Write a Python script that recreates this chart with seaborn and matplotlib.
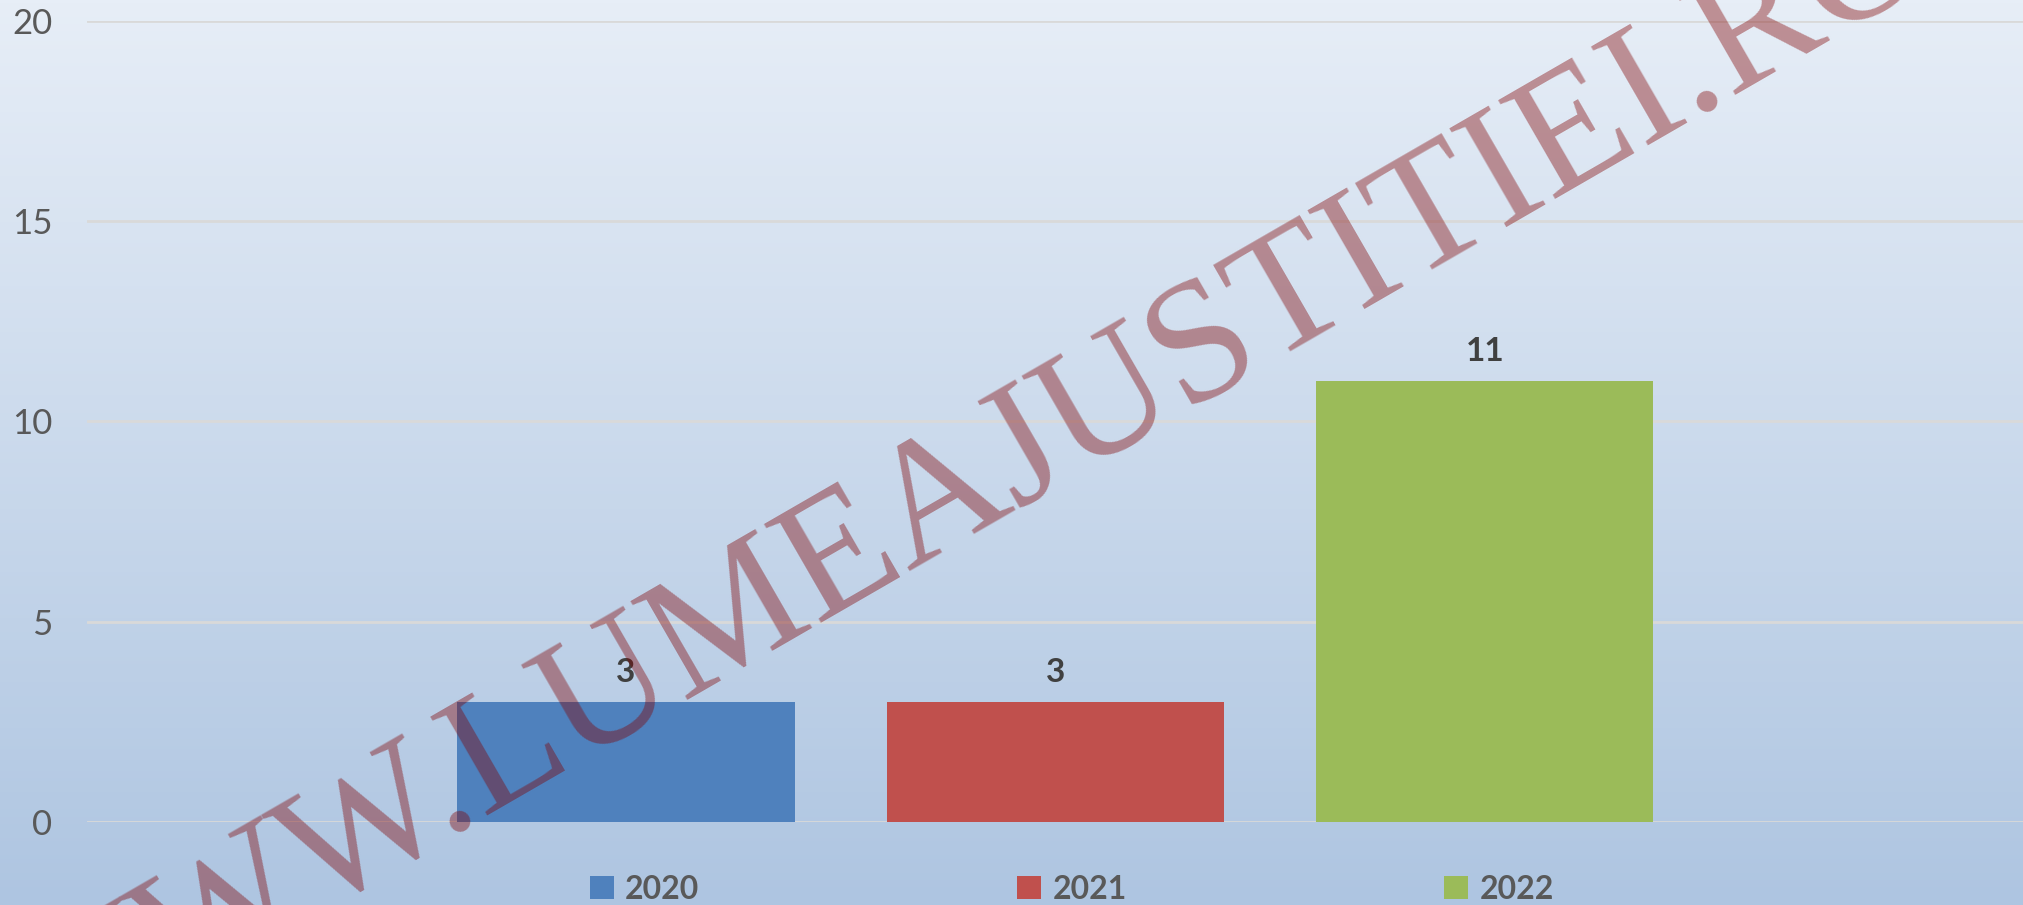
import numpy as np
import pandas as pd
import matplotlib
matplotlib.use("Agg")
import matplotlib.pyplot as plt
import seaborn as sns
from matplotlib.patches import Patch

years = ["2020", "2021", "2022"]
values = [3, 3, 11]
colors = ["#4F81BD", "#C0504D", "#9BBB59"]
yticks = [0, 5, 10, 15, 20]
watermark = "WWW.LUMEAJUSTITIEI.RO"

sns.set_theme(style="white")
plt.rcParams["font.family"] = ["Lato", "DejaVu Sans"]

W, H = 2023, 905
fig = plt.figure(figsize=(W / 100, H / 100), dpi=100)

# gradient background
bg = fig.add_axes([0, 0, 1, 1], zorder=-10)
top = np.array([231, 238, 247]) / 255
bot = np.array([174, 197, 225]) / 255
t = np.linspace(0, 1, 256)[:, None]
grad = top[None, :] * (1 - t) + bot[None, :] * t
bg.imshow(grad[:, None, :], aspect="auto", extent=[0, 1, 0, 1])
bg.set_axis_off()

ax = fig.add_axes([87 / W, 1 - 822 / H, 1 - 87 / W, (822 - 21) / H])
ax.patch.set_alpha(0)

df = pd.DataFrame({"year": years, "value": values})
sns.barplot(data=df, x="year", y="value", hue="year", palette=colors,
            order=years, hue_order=years, width=0.785, dodge=False,
            legend=False, ax=ax, saturation=1, linewidth=0, edgecolor="none")

ax.set_xlim(-1.255, 3.253)
ax.set_ylim(0, 20)
ax.set_yticks(yticks)
ax.set_yticklabels([str(v) for v in yticks])
ax.tick_params(axis="y", labelsize=25, labelcolor="#595959", length=0, pad=25)
ax.set_xticks([])
ax.set_xlabel("")
ax.set_ylabel("")
for s in ax.spines.values():
    s.set_visible(False)
ax.yaxis.grid(True, color="#D9D9D9", linewidth=2)
ax.set_axisbelow(True)

for c in ax.containers:
    ax.bar_label(c, labels=[f"{v:g}" for v in c.datavalues], padding=11,
                 fontsize=24, fontweight="bold", color="#404040")

handles = [Patch(facecolor=c, edgecolor="none") for c in colors]
fig.legend(handles, years, loc="center", bbox_to_anchor=(1072 / W, 1 - 889 / H),
           ncol=3, frameon=False, handlelength=0.75, handleheight=0.75,
           handletextpad=0.35, columnspacing=9.95,
           prop={"size": 23, "weight": "bold"}, labelcolor="#595959")

fig.text(988 / W, 1 - 527 / H, watermark, rotation=30, rotation_mode="anchor",
         ha="center", va="baseline", fontsize=124.8, color="#800000", alpha=0.4,
         family=["Liberation Serif", "DejaVu Serif"], zorder=20)

fig.savefig("out.png", dpi=100)
